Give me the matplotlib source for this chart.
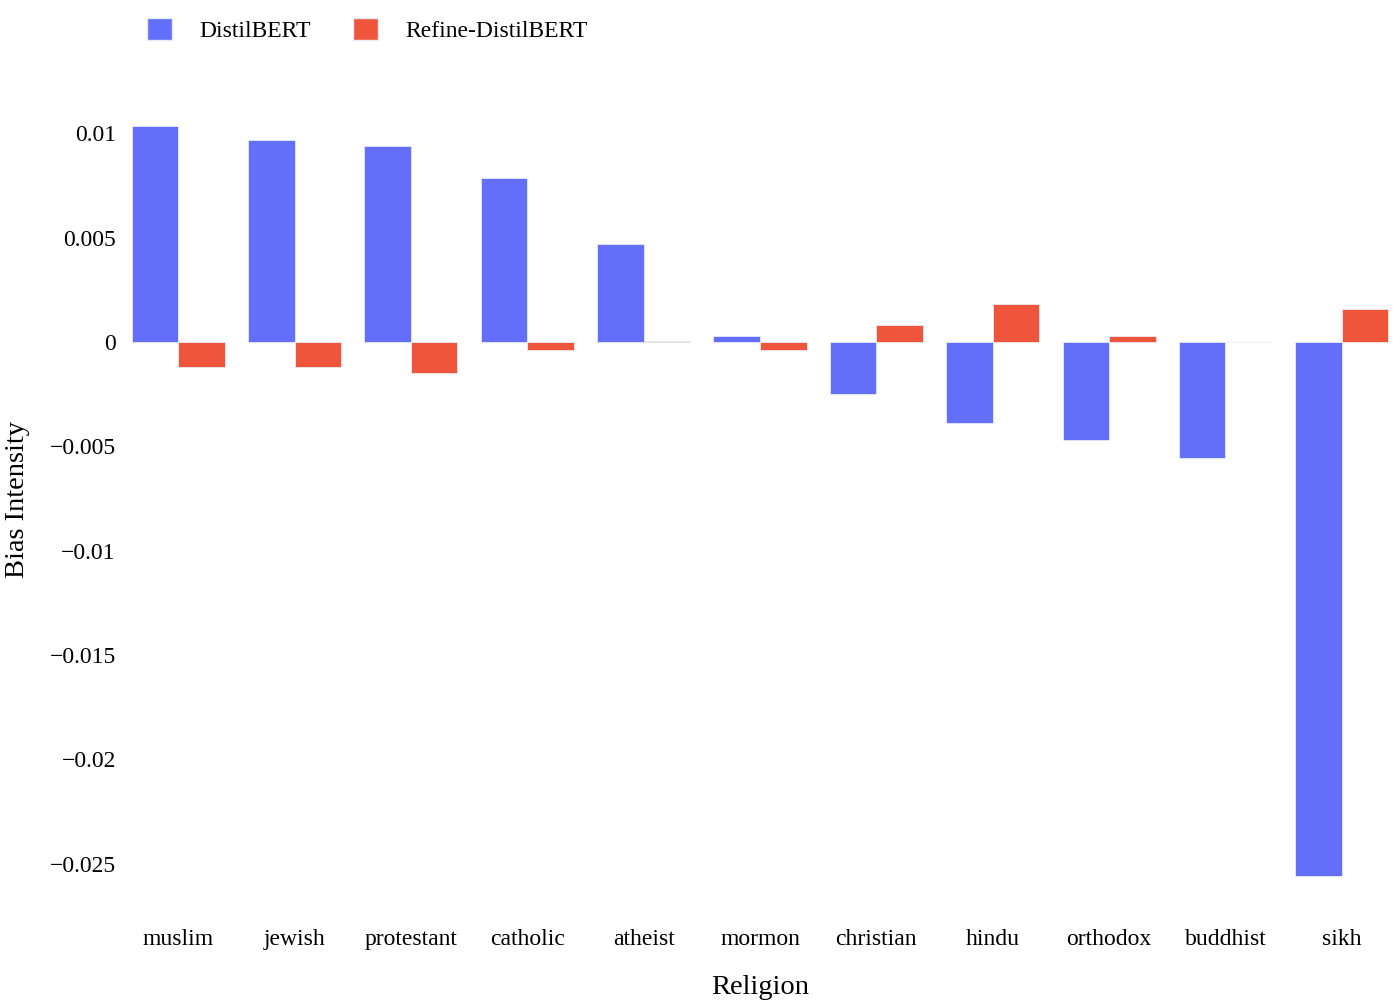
import numpy as np
import matplotlib
matplotlib.use("Agg")
import matplotlib.pyplot as plt
from matplotlib.ticker import FuncFormatter, FixedLocator
from matplotlib.patches import Patch

religions = ["muslim", "jewish", "protestant", "catholic", "atheist", "mormon",
             "christian", "hindu", "orthodox", "buddhist", "sikh"]
distilbert = [0.01033, 0.00968, 0.00938, 0.00786, 0.00468, 0.0003,
              -0.00248, -0.0039, -0.00468, -0.00558, -0.02558]
refine = [-0.0012, -0.0012, -0.00148, -0.00038, 0.00005, -0.00038,
          0.00081, 0.00181, 0.0003, 0.00002, 0.00158]
yticks = [0.01, 0.005, 0, -0.005, -0.01, -0.015, -0.02, -0.025]

BLUE = "#636EFA"
RED = "#EF553B"

plt.rcParams["font.family"] = ["Liberation Serif", "DejaVu Serif"]

fig = plt.figure(figsize=(14, 10), dpi=100)
ax = fig.add_axes([120 / 1400, 88 / 1000, 1280 / 1400, 823 / 1000])

x = np.arange(len(religions))
w = 0.4
ax.bar(x - w / 2, distilbert, width=w, color=BLUE, edgecolor="#E5ECF6", linewidth=0.6)
ax.bar(x + w / 2, refine, width=w, color=RED, edgecolor="#E5ECF6", linewidth=0.6)

ax.set_xlim(-0.5, len(religions) - 0.5)
ax.set_ylim(-0.02731, 0.01212)

ax.set_xticks(x)
ax.set_xticklabels(religions, fontsize=17)
ax.yaxis.set_major_locator(FixedLocator(yticks))
ax.yaxis.set_major_formatter(FuncFormatter(lambda v, p: ("%g" % v).replace("-", "\u2212")))
ax.tick_params(axis="y", labelsize=17, length=0, pad=3)
ax.tick_params(axis="x", length=0, pad=12)

for s in ax.spines.values():
    s.set_visible(False)

ax.set_xlabel("Religion", fontsize=20.5, labelpad=18)
fig.text(18 / 1400, 0.5, "Bias Intensity", rotation=90, fontsize=20.5,
         ha="center", va="center")

handles = [Patch(facecolor=BLUE, edgecolor="#E5ECF6"),
           Patch(facecolor=RED, edgecolor="#E5ECF6")]
fig.legend(handles, ["DistilBERT", "Refine-DistilBERT"], loc="center left",
           bbox_to_anchor=(147 / 1400, 1 - 30 / 1000), ncol=2, frameon=False,
           fontsize=17, handlelength=1.05, handleheight=1.05, handletextpad=1.15,
           columnspacing=1.8, borderpad=0.0, borderaxespad=0.0)

fig.savefig("out.png", dpi=100)
